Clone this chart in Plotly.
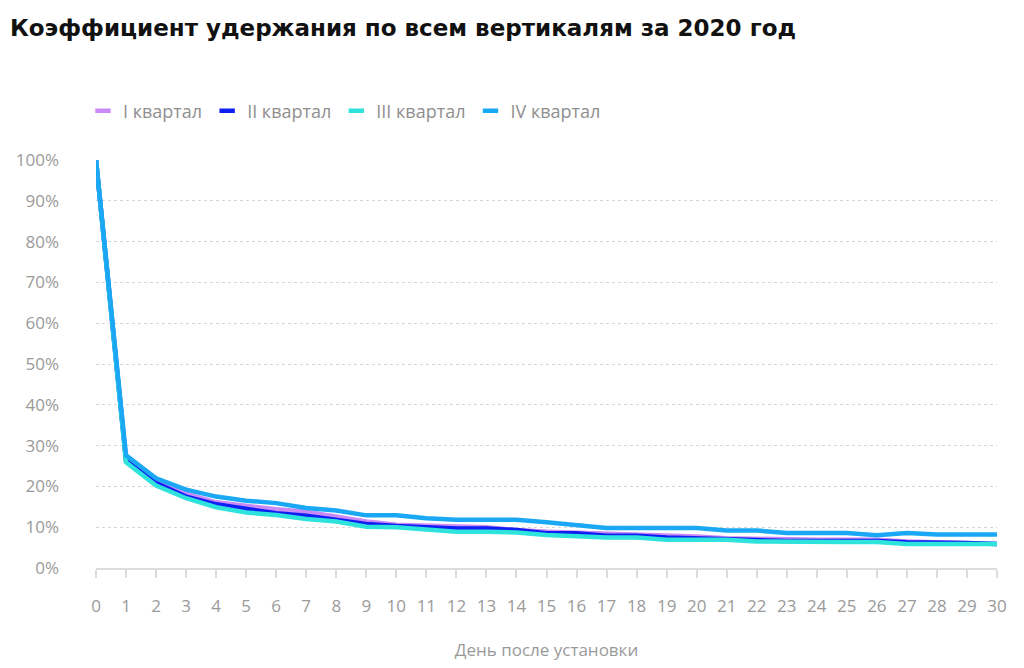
import plotly.graph_objects as go

days = list(range(31))
tick_labels = [str(d) for d in days]
series_names = ["I квартал", "II квартал", "III квартал", "IV квартал"]

q1 = [100, 26.6, 21.4, 18.2, 16.1, 15.2, 14.4, 13.8, 12.6, 11.4, 10.6, 10.3, 10.2, 10.0, 9.3, 8.9,
      8.7, 8.3, 8.2, 7.9, 7.7, 7.3, 7.1, 6.9, 6.9, 6.9, 6.9, 6.5, 6.3, 6.1, 5.9]
q2 = [100, 26.3, 20.8, 17.5, 15.6, 14.4, 13.4, 12.8, 11.8, 10.8, 10.3, 10.0, 9.7, 9.7, 9.3, 8.5,
      8.5, 7.9, 7.9, 7.5, 7.3, 7.1, 6.7, 6.6, 6.6, 6.6, 6.6, 6.3, 6.3, 6.1, 5.9]
q3 = [100, 25.9, 20.2, 17.1, 14.9, 13.6, 13.0, 12.0, 11.4, 10.1, 10.0, 9.5, 8.9, 8.9, 8.7, 8.1,
      7.7, 7.5, 7.5, 6.9, 6.9, 6.9, 6.5, 6.4, 6.4, 6.4, 6.4, 5.9, 5.9, 5.9, 5.9]
q4 = [100, 27.6, 22.0, 19.2, 17.5, 16.5, 15.9, 14.7, 14.1, 12.9, 12.9, 12.2, 11.8, 11.8, 11.8, 11.2,
      10.6, 9.8, 9.8, 9.8, 9.8, 9.2, 9.2, 8.6, 8.6, 8.6, 8.0, 8.6, 8.2, 8.2, 8.2]

y_tickvals = [0, 10, 20, 30, 40, 50, 60, 70, 80, 90, 100]
y_ticktext = [f"{v}%" for v in y_tickvals]

colors = ["#c98af7", "#0f1ef2", "#2ee3dc", "#1aa8f4"]
series = [q1, q2, q3, q4]

fig = go.Figure()
for name, vals, col in zip(series_names, series, colors):
    fig.add_trace(go.Scatter(
        x=days, y=vals, name=name, mode="lines",
        line=dict(color=col, width=4.5), showlegend=False,
        hovertemplate="%{x}: %{y}%<extra>" + name + "</extra>",
    ))
# legend entries with short rounded-line symbols
for name, col in zip(series_names, colors):
    fig.add_trace(go.Scatter(
        x=[None], y=[None], name=name, mode="markers",
        marker=dict(symbol="line-ew", size=11, color=col, line=dict(color=col, width=4.5)),
        showlegend=True,
    ))

BASE = "Open Sans, Noto Sans, sans-serif"
fig.update_layout(
    width=1024, height=668,
    paper_bgcolor="white", plot_bgcolor="white",
    margin=dict(l=88, r=35, t=152, b=108, autoexpand=False),
    font=dict(family=BASE, color="#9a9a9a", size=16),
    title=dict(
        text="Коэффициент удержания по всем вертикалям за 2020 год",
        x=2 / 1024, xanchor="left", xref="container",
        y=1 - 20 / 668, yanchor="middle", yref="container",
        font=dict(family="DejaVu Sans, sans-serif", size=23, color="#111111", weight="bold"),
    ),
    legend=dict(
        orientation="h", xref="container", yref="container",
        x=75 / 1024, xanchor="left", y=1 - 103 / 668, yanchor="middle",
        font=dict(size=18, color="#8f8f8f"),
        itemwidth=30, tracegroupgap=0,
    ),
    showlegend=True,
)
fig.update_xaxes(
    range=[0, 30], tickvals=days, ticktext=tick_labels,
    showgrid=False, zeroline=False,
    showline=True, linecolor="#dcdcdc", linewidth=2,
    ticks="outside", ticklen=8, tickcolor="#dcdcdc", tickwidth=2,
    ticklabelstandoff=14,
    tickfont=dict(size=17, color="#9a9a9a"),
    title=dict(text="День после установки", font=dict(size=17, color="#9a9a9a"), standoff=28),
)
fig.update_yaxes(
    range=[0, 100], tickvals=y_tickvals, ticktext=y_ticktext,
    showgrid=True, gridcolor="#d6d6d6", griddash="dot", gridwidth=1,
    zeroline=False, showline=False, ticks="",
    ticklabelstandoff=36,
    tickfont=dict(size=17, color="#9a9a9a"),
)

fig.write_html("out.html")
